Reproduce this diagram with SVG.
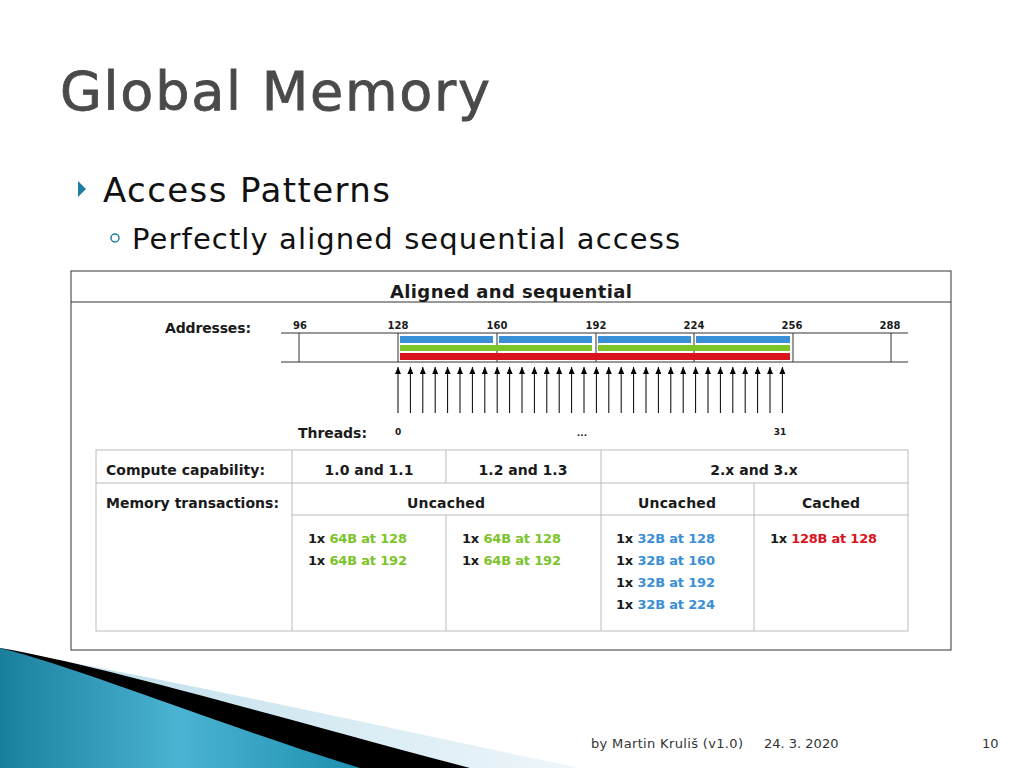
<svg xmlns="http://www.w3.org/2000/svg" width="1024" height="768" viewBox="0 0 1024 768">
<defs>
<linearGradient id="sw" x1="0" y1="0" x2="1" y2="0"><stop offset="0" stop-color="#1a7f9c"/><stop offset="0.5" stop-color="#4bb3d3"/><stop offset="1" stop-color="#1d8fb0"/></linearGradient>
<linearGradient id="lt" x1="0" y1="0" x2="1" y2="0"><stop offset="0" stop-color="#b9dcea"/><stop offset="1" stop-color="#eef6fa"/></linearGradient>
<marker id="ar" markerWidth="7" markerHeight="6" refX="7" refY="3" orient="auto" markerUnits="userSpaceOnUse"><path d="M0,0 L7,3 L0,6 Z" fill="#000"/></marker>
</defs>
<style>
.t{font-family:"DejaVu Sans",Verdana,sans-serif;font-weight:bold;fill:#1a1a1a}
.ln{stroke:#333;stroke-width:1;fill:none}
.tb{stroke:#bbb;stroke-width:1;fill:none}
.a{stroke:#000;stroke-width:1}
.b{fill:#3b8fd6}.g{fill:#7cc42a}.r{fill:#d9141e}
</style>
<rect width="1024" height="768" fill="#fff"/>
<text x="60" y="110" font-family="DejaVu Sans,sans-serif" font-size="54" fill="#4a4a4a" stroke="#4a4a4a" stroke-width="0.8" textLength="430">Global Memory</text>
<path d="M78,181 L86,189 L78,197 Z" fill="#1f7fa0"/>
<text x="103" y="202" font-family="DejaVu Sans,sans-serif" font-size="34" fill="#111" textLength="287">Access Patterns</text>
<circle cx="115" cy="238" r="4" fill="none" stroke="#1f7fa0" stroke-width="1.5"/>
<text x="132" y="249" font-family="DejaVu Sans,sans-serif" font-size="29" fill="#111" textLength="548">Perfectly aligned sequential access</text>
<g id="frame">
<rect x="71" y="271" width="880" height="379" class="ln"/>
<line x1="71" y1="302" x2="951" y2="302" class="ln"/>
<text x="511" y="298" class="t" font-size="18" text-anchor="middle" textLength="242">Aligned and sequential</text>
</g>
<g id="addresses">
<text x="165" y="333" class="t" font-size="14" textLength="86">Addresses:</text>
<g font-size="10" class="t" text-anchor="middle">
<text x="300" y="329">96</text><text x="398" y="329">128</text><text x="497" y="329">160</text><text x="596" y="329">192</text><text x="694" y="329">224</text><text x="792" y="329">256</text><text x="890" y="329">288</text>
</g>
<line x1="281" y1="333" x2="908" y2="333" class="ln"/>
<line x1="281" y1="362" x2="908" y2="362" class="ln"/>
<g class="ln"><line x1="299" y1="333" x2="299" y2="362"/><line x1="398" y1="333" x2="398" y2="362"/><line x1="497" y1="333" x2="497" y2="362"/><line x1="596" y1="333" x2="596" y2="362"/><line x1="694" y1="333" x2="694" y2="362"/><line x1="793" y1="333" x2="793" y2="362"/><line x1="891" y1="333" x2="891" y2="362"/></g>
<rect x="400" y="336" width="93" height="7" class="b"/><rect x="499" y="336" width="93" height="7" class="b"/><rect x="598" y="336" width="93" height="7" class="b"/><rect x="696" y="336" width="94" height="7" class="b"/>
<rect x="400" y="345" width="192" height="6" class="g"/><rect x="598" y="345" width="192" height="6" class="g"/>
<rect x="400" y="353" width="390" height="7" class="r"/>
</g>
<g id="connectors" class="a" marker-end="url(#ar)">
<line x1="398" y1="413" x2="398" y2="367"/><line x1="410.4" y1="413" x2="410.4" y2="367"/><line x1="422.8" y1="413" x2="422.8" y2="367"/><line x1="435.2" y1="413" x2="435.2" y2="367"/><line x1="447.6" y1="413" x2="447.6" y2="367"/><line x1="460" y1="413" x2="460" y2="367"/><line x1="472.4" y1="413" x2="472.4" y2="367"/><line x1="484.8" y1="413" x2="484.8" y2="367"/><line x1="497.2" y1="413" x2="497.2" y2="367"/><line x1="509.6" y1="413" x2="509.6" y2="367"/><line x1="522" y1="413" x2="522" y2="367"/><line x1="534.4" y1="413" x2="534.4" y2="367"/><line x1="546.8" y1="413" x2="546.8" y2="367"/><line x1="559.2" y1="413" x2="559.2" y2="367"/><line x1="571.6" y1="413" x2="571.6" y2="367"/><line x1="584" y1="413" x2="584" y2="367"/><line x1="596.4" y1="413" x2="596.4" y2="367"/><line x1="608.8" y1="413" x2="608.8" y2="367"/><line x1="621.2" y1="413" x2="621.2" y2="367"/><line x1="633.6" y1="413" x2="633.6" y2="367"/><line x1="646" y1="413" x2="646" y2="367"/><line x1="658.4" y1="413" x2="658.4" y2="367"/><line x1="670.8" y1="413" x2="670.8" y2="367"/><line x1="683.2" y1="413" x2="683.2" y2="367"/><line x1="695.6" y1="413" x2="695.6" y2="367"/><line x1="708" y1="413" x2="708" y2="367"/><line x1="720.4" y1="413" x2="720.4" y2="367"/><line x1="732.8" y1="413" x2="732.8" y2="367"/><line x1="745.2" y1="413" x2="745.2" y2="367"/><line x1="757.6" y1="413" x2="757.6" y2="367"/><line x1="770" y1="413" x2="770" y2="367"/><line x1="782.4" y1="413" x2="782.4" y2="367"/>
</g>
<g id="threads">
<text x="298" y="438" class="t" font-size="14" textLength="69">Threads:</text>
<text x="395" y="435" class="t" font-size="9">0</text>
<text x="582" y="436" class="t" font-size="9" text-anchor="middle">...</text>
<text x="780" y="435" class="t" font-size="9" text-anchor="middle">31</text>
</g>
<g id="table">
<rect x="96" y="450" width="812" height="181" class="tb"/>
<line x1="96" y1="483" x2="908" y2="483" class="tb"/>
<line x1="292" y1="515" x2="908" y2="515" class="tb"/>
<line x1="292" y1="450" x2="292" y2="631" class="tb"/>
<line x1="446" y1="450" x2="446" y2="483" class="tb"/>
<line x1="446" y1="515" x2="446" y2="631" class="tb"/>
<line x1="601" y1="450" x2="601" y2="631" class="tb"/>
<line x1="754" y1="483" x2="754" y2="631" class="tb"/>
<g font-size="14" class="t">
<text x="106" y="475" textLength="159">Compute capability:</text>
<text x="106" y="508" textLength="173">Memory transactions:</text>
<text x="369" y="475" text-anchor="middle">1.0 and 1.1</text>
<text x="523" y="475" text-anchor="middle">1.2 and 1.3</text>
<text x="754" y="475" text-anchor="middle">2.x and 3.x</text>
<text x="446" y="508" text-anchor="middle" textLength="78">Uncached</text>
<text x="677" y="508" text-anchor="middle" textLength="78">Uncached</text>
<text x="831" y="508" text-anchor="middle" textLength="58">Cached</text>
</g>
<g font-size="13" class="t">
<text x="308" y="543" textLength="99">1x <tspan class="g">64B at 128</tspan></text>
<text x="308" y="565" textLength="99">1x <tspan class="g">64B at 192</tspan></text>
<text x="462" y="543" textLength="99">1x <tspan class="g">64B at 128</tspan></text>
<text x="462" y="565" textLength="99">1x <tspan class="g">64B at 192</tspan></text>
<text x="616" y="543" textLength="99">1x <tspan class="b">32B at 128</tspan></text>
<text x="616" y="565" textLength="99">1x <tspan class="b">32B at 160</tspan></text>
<text x="616" y="587" textLength="99">1x <tspan class="b">32B at 192</tspan></text>
<text x="616" y="609" textLength="99">1x <tspan class="b">32B at 224</tspan></text>
<text x="770" y="543" textLength="107">1x <tspan class="r">128B at 128</tspan></text>
</g>
</g>
<g id="footer-swoosh">
<path d="M0,650 C150,675 350,720 580,768 L0,768 Z" fill="url(#lt)"/>
<path d="M0,648 C100,665 270,715 470,768 L0,768 Z" fill="#000"/>
<path d="M0,648 C80,668 220,725 360,768 L0,768 Z" fill="url(#sw)"/>
</g>
<g font-family="DejaVu Sans,sans-serif" font-size="13" fill="#333">
<text x="591" y="748" textLength="152">by Martin Kruliš (v1.0)</text>
<text x="764" y="748">24. 3. 2020</text>
<text x="982" y="748">10</text>
</g>
</svg>
